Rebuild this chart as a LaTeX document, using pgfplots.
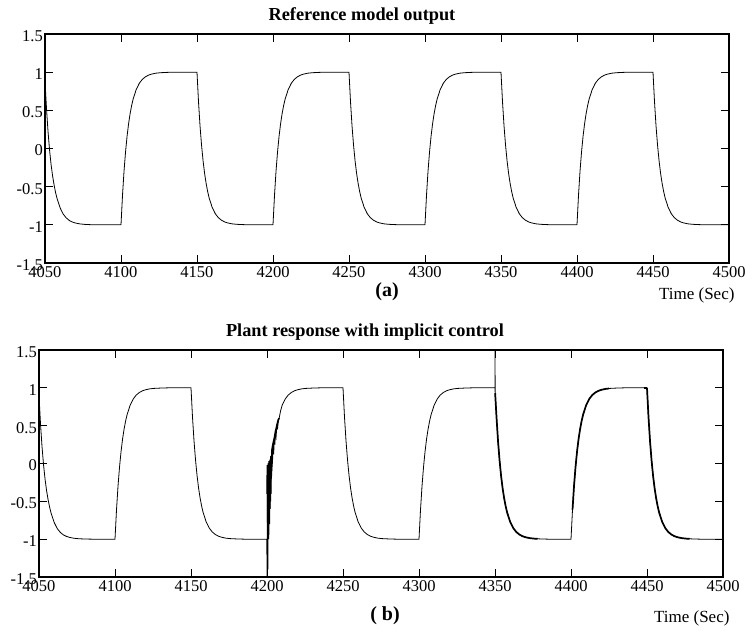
\documentclass[border=0pt]{standalone}
\usepackage{fontspec}
\setmainfont{Liberation Serif}
\usepackage{pgfplots}
\pgfplotsset{compat=1.18}

% reference model output (top)
\pgfplotstableread{
t y
4050 0.88
4051 0.52
4052 0.22
4053 -0.02
4054 -0.21
4055 -0.36
4056 -0.48
4057 -0.58
4058 -0.66
4060 -0.78
4062 -0.86
4064 -0.91
4066 -0.943
4068 -0.963
4070 -0.976
4073 -0.988
4076 -0.994
4080 -0.998
4085 -1
4100 -1
4101 -0.61
4102 -0.294
4103 -0.042
4104 0.162
4105 0.326
4106 0.457
4107 0.563
4108 0.649
4110 0.772
4112 0.853
4114 0.905
4116 0.938
4118 0.96
4120 0.974
4123 0.987
4126 0.993
4130 0.997
4135 1
4150 1
4151 0.61
4152 0.294
4153 0.042
4154 -0.162
4155 -0.326
4156 -0.457
4157 -0.563
4158 -0.649
4160 -0.772
4162 -0.853
4164 -0.905
4166 -0.938
4168 -0.96
4170 -0.974
4173 -0.987
4176 -0.993
4180 -0.997
4185 -1
4200 -1
4201 -0.61
4202 -0.294
4203 -0.042
4204 0.162
4205 0.326
4206 0.457
4207 0.563
4208 0.649
4210 0.772
4212 0.853
4214 0.905
4216 0.938
4218 0.96
4220 0.974
4223 0.987
4226 0.993
4230 0.997
4235 1
4250 1
4251 0.61
4252 0.294
4253 0.042
4254 -0.162
4255 -0.326
4256 -0.457
4257 -0.563
4258 -0.649
4260 -0.772
4262 -0.853
4264 -0.905
4266 -0.938
4268 -0.96
4270 -0.974
4273 -0.987
4276 -0.993
4280 -0.997
4285 -1
4300 -1
4301 -0.61
4302 -0.294
4303 -0.042
4304 0.162
4305 0.326
4306 0.457
4307 0.563
4308 0.649
4310 0.772
4312 0.853
4314 0.905
4316 0.938
4318 0.96
4320 0.974
4323 0.987
4326 0.993
4330 0.997
4335 1
4350 1
4351 0.61
4352 0.294
4353 0.042
4354 -0.162
4355 -0.326
4356 -0.457
4357 -0.563
4358 -0.649
4360 -0.772
4362 -0.853
4364 -0.905
4366 -0.938
4368 -0.96
4370 -0.974
4373 -0.987
4376 -0.993
4380 -0.997
4385 -1
4400 -1
4401 -0.61
4402 -0.294
4403 -0.042
4404 0.162
4405 0.326
4406 0.457
4407 0.563
4408 0.649
4410 0.772
4412 0.853
4414 0.905
4416 0.938
4418 0.96
4420 0.974
4423 0.987
4426 0.993
4430 0.997
4435 1
4450 1
4451 0.61
4452 0.294
4453 0.042
4454 -0.162
4455 -0.326
4456 -0.457
4457 -0.563
4458 -0.649
4460 -0.772
4462 -0.853
4464 -0.905
4466 -0.938
4468 -0.96
4470 -0.974
4473 -0.987
4476 -0.993
4480 -0.997
4485 -1
4500 -1
}\refdata

% plant response (bottom)
\pgfplotstableread{
t y
4050 0.9
4051 0.52
4052 0.22
4053 -0.02
4054 -0.21
4055 -0.36
4056 -0.48
4057 -0.58
4058 -0.66
4060 -0.78
4062 -0.86
4064 -0.91
4066 -0.943
4068 -0.963
4070 -0.976
4073 -0.988
4076 -0.994
4080 -0.998
4085 -1
4100 -1
4101 -0.61
4102 -0.294
4103 -0.042
4104 0.162
4105 0.326
4106 0.457
4107 0.563
4108 0.649
4110 0.772
4112 0.853
4114 0.905
4116 0.938
4118 0.96
4120 0.974
4123 0.987
4126 0.993
4130 0.997
4135 1
4150 1
4151 0.61
4152 0.294
4153 0.042
4154 -0.162
4155 -0.326
4156 -0.457
4157 -0.563
4158 -0.649
4160 -0.772
4162 -0.853
4164 -0.905
4166 -0.938
4168 -0.96
4170 -0.974
4173 -0.987
4176 -0.993
4180 -0.997
4185 -1
4199.9 -1
4200.0 -1.6
4200.3 -0.02
4200.6 -1.4
4200.9 0.0
4201.2 -1.0
4201.5 0.03
4201.8 -0.8
4202.1 0.05
4202.4 -0.5
4202.7 0.1
4203.0 -0.2
4203.3 0.18
4203.6 0.0
4204.0 0.26
4204.4 0.12
4204.8 0.33
4205.2 0.25
4205.6 0.42
4206.0 0.36
4206.5 0.5
4207.0 0.47
4207.5 0.58
4208.0 0.6
4209.0 0.7
4210 0.772
4212 0.853
4214 0.905
4216 0.938
4218 0.96
4220 0.974
4223 0.987
4226 0.993
4230 0.997
4235 1
4250 1
4251 0.61
4252 0.294
4253 0.042
4254 -0.162
4255 -0.326
4256 -0.457
4257 -0.563
4258 -0.649
4260 -0.772
4262 -0.853
4264 -0.905
4266 -0.938
4268 -0.96
4270 -0.974
4273 -0.987
4276 -0.993
4280 -0.997
4285 -1
4300 -1
4301 -0.61
4302 -0.294
4303 -0.042
4304 0.162
4305 0.326
4306 0.457
4307 0.563
4308 0.649
4310 0.772
4312 0.853
4314 0.905
4316 0.938
4318 0.96
4320 0.974
4323 0.987
4326 0.993
4330 0.997
4335 1
4350 1
4350 1.6
4350.1 0.93
4351 0.61
4352 0.294
4353 0.042
4354 -0.162
4355 -0.326
4356 -0.457
4357 -0.563
4358 -0.649
4360 -0.772
4362 -0.853
4364 -0.905
4366 -0.938
4368 -0.96
4370 -0.974
4373 -0.987
4376 -0.993
4380 -0.997
4385 -1
4400 -1
4401 -0.61
4402 -0.294
4403 -0.042
4404 0.162
4405 0.326
4406 0.457
4407 0.563
4408 0.649
4410 0.772
4412 0.853
4414 0.905
4416 0.938
4418 0.96
4420 0.974
4423 0.987
4426 0.993
4430 0.997
4435 1
4450 1
4451 0.61
4452 0.294
4453 0.042
4454 -0.162
4455 -0.326
4456 -0.457
4457 -0.563
4458 -0.649
4460 -0.772
4462 -0.853
4464 -0.905
4466 -0.938
4468 -0.96
4470 -0.974
4473 -0.987
4476 -0.993
4480 -0.997
4485 -1
4500 -1
}\plantdata

\pgfplotsset{
  panel/.style={
    anchor=south west, scale only axis,
    xmin=4050, xmax=4500, ymin=-1.5, ymax=1.5,
    xtick={4050,4100,...,4500},
    ytick={-1.5,-1,...,1.5},
    yticklabels={-1.5,-1,-0.5,0,0.5,1,1.5},
    xtick pos=both, ytick pos=both,
    xticklabel pos=lower, yticklabel pos=left,
    tick align=inside, major tick length=8pt,
    every tick/.style={black, line width=0.9pt},
    axis line style={black, line width=1.4pt},
    /pgf/number format/1000 sep={},
    /pgf/number format/assume math mode=true,
    xticklabel style={font=\fontsize{16.5}{18}\selectfont, inner sep=0pt, yshift=-3pt},
    yticklabel style={font=\fontsize{16.5}{18}\selectfont, inner sep=0pt, xshift=-2pt, yshift=-2pt},
  },
}

\begin{document}
\begin{tikzpicture}[x=1pt,y=1pt]
\path[use as bounding box] (0,0) rectangle (753,630);

\begin{axis}[panel, at={(45pt,367pt)}, width=684pt, height=229pt]
\addplot[black, line width=0.8pt] table[x=t, y=y] {\refdata};
\end{axis}

\begin{axis}[panel, at={(39pt,53pt)}, width=684pt, height=227pt]
\addplot[black, line width=0.8pt] table[x=t, y=y] {\plantdata};
% segments drawn heavier in the original
\addplot[black, line width=1.7pt] coordinates {
(4350.1,0.93) (4351,0.61) (4352,0.294) (4353,0.042) (4354,-0.162) (4355,-0.326)
(4356,-0.457) (4357,-0.563) (4358,-0.649) (4360,-0.772) (4362,-0.853) (4364,-0.905)
(4366,-0.938) (4368,-0.96) (4370,-0.974) (4373,-0.987) (4376,-0.993) (4378,-0.995)
};
\addplot[black, line width=1.7pt] coordinates {
(4401,-0.61) (4402,-0.294) (4403,-0.042) (4404,0.162) (4405,0.326) (4406,0.457)
(4407,0.563) (4408,0.649) (4410,0.772) (4412,0.853) (4414,0.905) (4416,0.938)
(4418,0.96) (4420,0.974) (4423,0.987) (4425,0.991)
};
\addplot[black, line width=1.7pt] coordinates {(4448,1) (4450,1)};
\addplot[black, line width=1.7pt] coordinates {
(4450,1) (4451,0.61) (4452,0.294) (4453,0.042) (4454,-0.162) (4455,-0.326)
(4456,-0.457) (4457,-0.563) (4458,-0.649) (4460,-0.772) (4462,-0.853) (4464,-0.905)
(4466,-0.938) (4468,-0.96) (4470,-0.974) (4473,-0.987) (4476,-0.993) (4478,-0.995)
};
\addplot[black, line width=1.7pt] coordinates {
(4200.1,-0.4) (4200.3,-0.02) (4200.6,-0.9) (4200.9,0.0) (4201.2,-0.7) (4201.5,0.03)
(4201.8,-0.6) (4202.1,0.05) (4202.4,-0.4) (4202.7,0.1) (4203.0,-0.1) (4203.3,0.18)
(4204.0,0.26) (4204.8,0.33) (4205.6,0.42) (4206.5,0.5) (4207.5,0.58) (4208.0,0.6)
};
\end{axis}

\node[anchor=base, font=\bfseries\fontsize{18.3}{20}\selectfont] at (362,609) {Reference model output};
\node[anchor=base, font=\bfseries\fontsize{20}{22}\selectfont] at (387,333) {(a)};
\node[anchor=base east, font=\fontsize{17}{19}\selectfont] at (738,330) {Time (Sec)};

\node[anchor=base, font=\bfseries\fontsize{18.3}{20}\selectfont] at (365,293) {Plant response with implicit control};
\node[anchor=base, font=\bfseries\fontsize{20}{22}\selectfont] at (385,10) {( b)};
\node[anchor=base east, font=\fontsize{17}{19}\selectfont] at (733,8) {Time (Sec)};
\end{tikzpicture}
\end{document}
